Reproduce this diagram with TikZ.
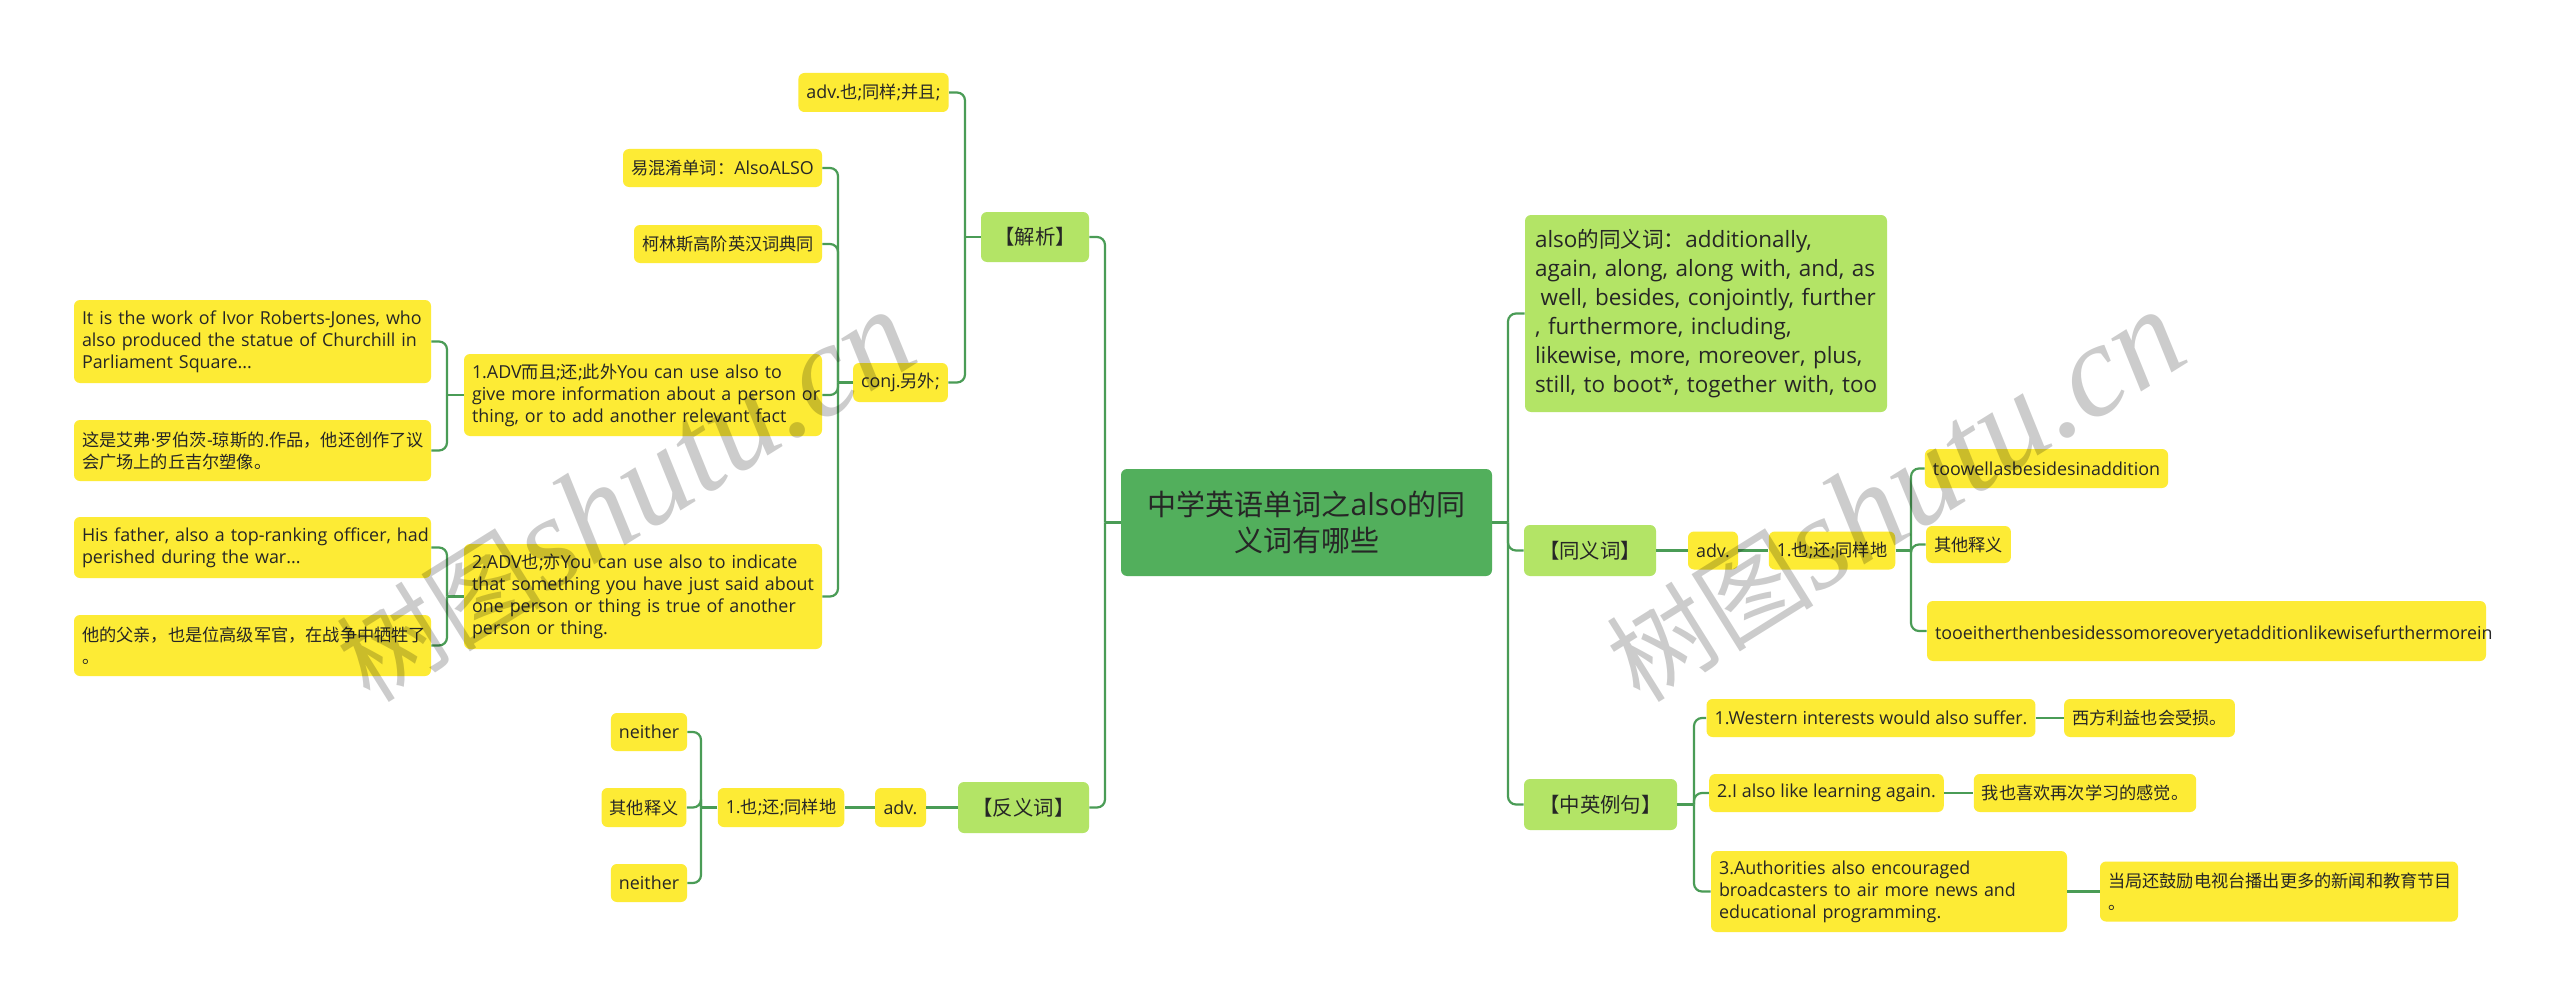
\documentclass[tikz,border=0pt]{standalone}
\usepackage{fontspec}
\setmainfont[Scale=1.04]{Open Sans}
\newfontfamily\latfont[Scale=1.04]{Open Sans}
\newfontfamily\cjkfont{Noto Sans CJK SC}
\newfontfamily\wmfont{Liberation Serif}
\XeTeXinterchartokenstate=1
\newXeTeXintercharclass\cjkcls
\newcount\cc
\cc="3000
\loop \XeTeXcharclass\cc=\cjkcls \ifnum\cc<"9FFF \advance\cc by 1 \repeat
\cc="FF00
\loop \XeTeXcharclass\cc=\cjkcls \ifnum\cc<"FFEF \advance\cc by 1 \repeat
\XeTeXinterchartoks 0 \cjkcls = {\cjkfont}
\XeTeXinterchartoks 4095 \cjkcls = {\cjkfont}
\XeTeXinterchartoks \cjkcls 0 = {\latfont}
\XeTeXinterchartoks \cjkcls 4095 = {\latfont}
\newcommand\Ln[1]{\mbox{#1}}
\definecolor{yel}{HTML}{FDEB35}
\definecolor{lgr}{HTML}{B3E466}
\definecolor{dgr}{HTML}{52AF5C}
\definecolor{lnc}{HTML}{4A9C56}
\definecolor{tx}{HTML}{262626}
\tikzset{
  base/.style={rounded corners=3pt, inner xsep=4pt, inner ysep=3pt, anchor=center, text=tx},
  yb/.style={base, fill=yel, font=\fontsize{8.6}{11}\selectfont},
  gb/.style={base, fill=lgr, font=\fontsize{10.2}{12.5}\selectfont},
  cb/.style={base, fill=dgr, font=\fontsize{14.5}{18.3}\selectfont, align=center},
  sz/.style 2 args={minimum width=#1*0.5pt, minimum height=#2*0.5pt},
  tw/.style={text width=#1pt, align=left},
  conn/.style={draw=lnc, line width=1.1pt, rounded corners=4pt},
  wm/.style={text=black, text opacity=0.2, inner sep=0pt},
}
\begin{document}
\begin{tikzpicture}[x=0.5pt,y=-0.5pt]
\fill[white] (0,0) rectangle (2560,1006);
\useasboundingbox (0,0) rectangle (2560,1006);
% ---------- centre
\node[cb, sz={371}{107}] (ctr) at (1306.5,522.5) {中学英语单词之also的同\\义词有哪些};
% ---------- left
\node[gb, sz={108}{50}] (jx) at (1035,237) {【解析】};
\node[gb, sz={131}{51}] (fyc) at (1023.5,807.5) {【反义词】};
\node[yb, sz={147}{39}] (ladv) at (873.5,92.5) {adv.也;同样;并且;};
\node[yb, sz={93}{39}] (conj) at (900.5,382.5) {conj.另外;};
\node[yb, sz={199}{38}] (hun) at (722.5,168) {易混淆单词：AlsoALSO};
\node[yb, sz={186}{38}] (kl) at (728,244) {柯林斯高阶英汉词典同};
\node[yb, sz={358}{82}, tw=171] (adv1) at (643,395) {\Ln{1.ADV而且;还;此外You can use also to}\\\Ln{give more information about a person or}\\\Ln{thing, or to add another relevant fact}};
\node[yb, sz={357}{83}, tw=170.5] (ex1) at (252.5,341.5) {\Ln{It is the work of Ivor Roberts-Jones, who}\\\Ln{also produced the statue of Churchill in}\\\Ln{Parliament Square...}};
\node[yb, sz={357}{61}, tw=170.5] (ex1c) at (252.5,450.5) {\Ln{这是艾弗·罗伯茨-琼斯的.作品，他还创作了议}\\\Ln{会广场上的丘吉尔塑像。}};
\node[yb, sz={358}{105}, tw=171] (adv2) at (643,596.5) {\Ln{2.ADV也;亦You can use also to indicate}\\\Ln{that something you have just said about}\\\Ln{one person or thing is true of another}\\\Ln{person or thing.}};
\node[yb, sz={357}{61}, tw=170.5] (ex2) at (252.5,547.5) {\Ln{His father, also a top-ranking officer, had}\\\Ln{perished during the war...}};
\node[yb, sz={357}{61}, tw=170.5] (ex2c) at (252.5,645.5) {\Ln{他的父亲，也是位高级军官，在战争中牺牲了}\\\Ln{。}};
\node[yb, sz={51}{39}] (fadv) at (900.5,807.5) {adv.};
\node[yb, sz={124}{39}] (fye) at (781,807.5) {1.也;还;同样地};
\node[yb, sz={74}{38}] (nei1) at (649,732) {neither};
\node[yb, sz={84}{39}] (fqt) at (644,807.5) {其他释义};
\node[yb, sz={74}{38}] (nei2) at (649,883) {neither};
% ---------- right
\node[gb, sz={362}{197}, tw=171, inner xsep=5pt, font=\fontsize{10.8}{14.5}\selectfont] (syn) at (1706,313.5)
  {\Ln{also的同义词：additionally,}\\\Ln{again, along, along with, and, as}\\\Ln{\hspace*{.25em}well, besides, conjointly, further}\\\Ln{, furthermore, including,}\\\Ln{likewise, more, moreover, plus,}\\\Ln{still, to boot*, together with, too}};
\node[gb, sz={132}{51}] (tyc) at (1590,550.5) {【同义词】};
\node[yb, sz={50}{38}] (radv) at (1713,550.5) {adv.};
\node[yb, sz={124}{38}] (rye) at (1832,550.5) {1.也;还;同样地};
\node[yb, sz={239}{39}] (too1) at (2046.5,468.5) {toowellasbesidesinaddition};
\node[yb, sz={83}{37}] (rqt) at (1968.5,544.5) {其他释义};
\node[yb, sz={559}{60}, tw=271.5] (too2) at (2206.5,631) {\Ln{}\\\Ln{tooeitherthenbesidessomoreoveryetadditionlikewisefurthermorein}};
\node[gb, sz={153}{51}] (zy) at (1600.5,804.5) {【中英例句】};
\node[yb, sz={320}{38}] (s1) at (1871,718) {1.Western interests would also suffer.};
\node[yb, sz={169}{38}] (s1c) at (2149.5,718) {西方利益也会受损。};
\node[yb, sz={231}{38}] (s2) at (1826.5,793) {2.I also like learning again.};
\node[yb, sz={220}{38}] (s2c) at (2085,793) {我也喜欢再次学习的感觉。};
\node[yb, sz={356}{81}, tw=170] (s3) at (1889,891.5) {\Ln{3.Authorities also encouraged}\\\Ln{broadcasters to air more news and}\\\Ln{educational programming.}};
\node[yb, sz={358}{60}, tw=171] (s3c) at (2279,891.5) {\Ln{当局还鼓励电视台播出更多的新闻和教育节目}\\\Ln{。}};
% ---------- bar coordinates
\coordinate (cL) at (1105,522.5);
\coordinate (cR) at (1508,522.5);
\coordinate (bJ) at (965,237);
\coordinate (bC) at (838,382.5);
\coordinate (bA1) at (447,395);
\coordinate (bA2) at (447,596.5);
\coordinate (bF) at (701,807.5);
\coordinate (bR) at (1911,550.5);
\coordinate (bZ) at (1694,804.5);
% ---------- connectors left
\draw[conn] (ctr.west) -- (cL);
\draw[conn] (cL) |- (jx.east);
\draw[conn] (cL) |- (fyc.east);
\draw[conn] (jx.west) -- (bJ);
\draw[conn] (bJ) |- (ladv.east);
\draw[conn] (bJ) |- (conj.east);
\draw[conn] (conj.west) -- (bC);
\draw[conn] (bC) |- (hun.east);
\draw[conn] (bC) |- (kl.east);
\draw[conn] (bC) |- (adv1.east);
\draw[conn] (bC) |- (adv2.east);
\draw[conn] (adv1.west) -- (bA1);
\draw[conn] (bA1) |- (ex1.east);
\draw[conn] (bA1) |- (ex1c.east);
\draw[conn] (adv2.west) -- (bA2);
\draw[conn] (bA2) |- (ex2.east);
\draw[conn] (bA2) |- (ex2c.east);
\draw[conn] (fyc.west) -- (fadv.east);
\draw[conn] (fadv.west) -- (fye.east);
\draw[conn] (fye.west) -- (bF);
\draw[conn] (bF) |- (nei1.east);
\draw[conn] (bF) |- (fqt.east);
\draw[conn] (bF) |- (nei2.east);
% ---------- connectors right
\draw[conn] (ctr.east) -- (cR);
\draw[conn] (cR) |- (syn.west);
\draw[conn] (cR) |- (tyc.west);
\draw[conn] (cR) |- (zy.west);
\draw[conn] (tyc.east) -- (radv.west);
\draw[conn] (radv.east) -- (rye.west);
\draw[conn] (rye.east) -- (bR);
\draw[conn] (bR) |- (too1.west);
\draw[conn] (bR) |- (rqt.west);
\draw[conn] (bR) |- (too2.west);
\draw[conn] (zy.east) -- (bZ);
\draw[conn] (bZ) |- (s1.west);
\draw[conn] (bZ) |- (s2.west);
\draw[conn] (bZ) |- (s3.west);
\draw[conn] (s1.east) -- (s1c.west);
\draw[conn] (s2.east) -- (s2c.west);
\draw[conn] (s3.east) -- (s3c.west);
% ---------- watermarks
\node[wm, anchor=base west, rotate=32] (wm1) at (370,705)
  {\XeTeXinterchartokenstate=0 {\cjkfont\fontsize{52}{52}\selectfont 树图}{\wmfont\itshape\fontsize{66}{66}\selectfont shutu.cn}};
\node[wm, anchor=base west, rotate=32] (wm2) at (1640,705)
  {\XeTeXinterchartokenstate=0 {\cjkfont\fontsize{52}{52}\selectfont 树图}{\wmfont\itshape\fontsize{66}{66}\selectfont shutu.cn}};
\end{tikzpicture}
\end{document}
